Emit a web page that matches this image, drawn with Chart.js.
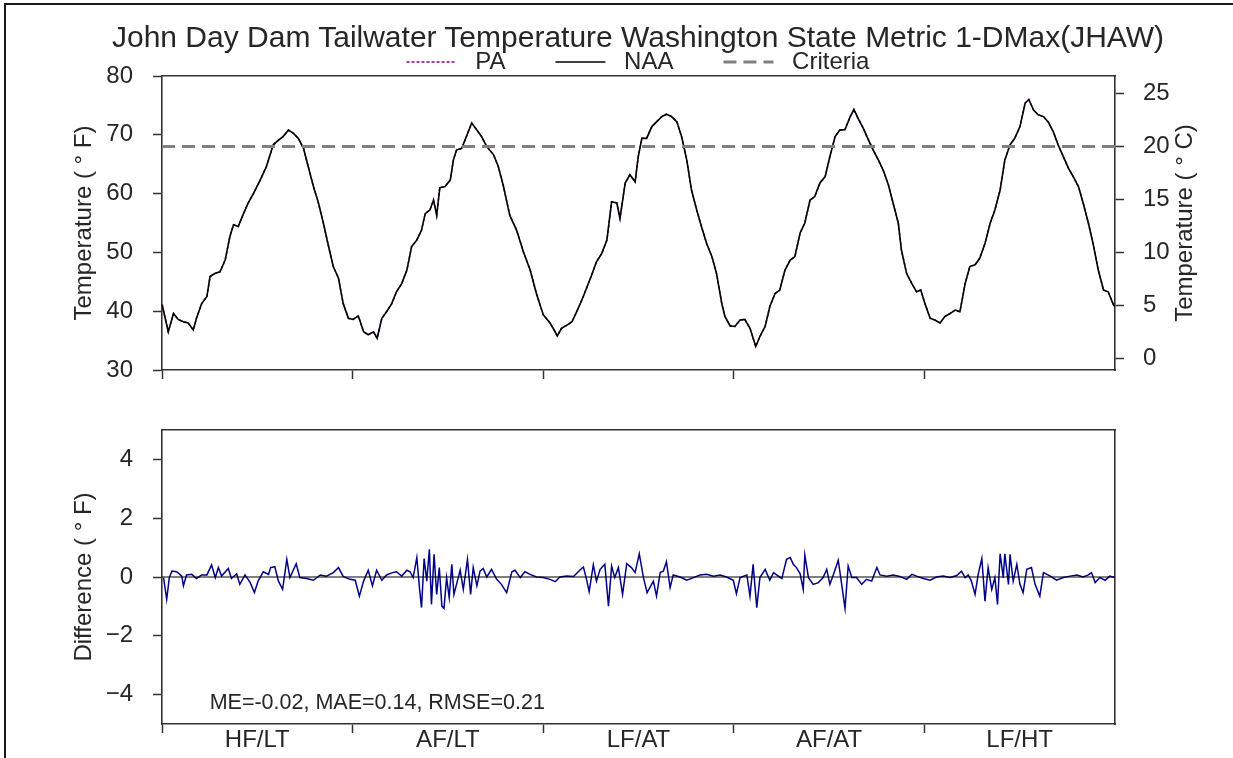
<!DOCTYPE html>
<html>
<head>
<meta charset="utf-8">
<title>John Day Dam Tailwater Temperature</title>
<script src="https://cdn.jsdelivr.net/npm/chart.js@4.4.1/dist/chart.umd.min.js"></script>
<style>
  body { margin: 0; background: #fff; overflow: hidden; font-family: 'Liberation Sans', Arial, sans-serif; }
  #frame { position: absolute; left: 4px; top: 3px; width: 1240px; height: 770px; border-top: 2px solid #1a1a1a; border-left: 2px solid #1a1a1a; }
  #title { position: absolute; left: 43px; width: 1190px; top: 19px; line-height: 36px; font-size: 30px; color: #262626; text-align: center; white-space: nowrap; }
  canvas { position: absolute; left: 0; }
</style>
</head>
<body>
<div id="frame"></div>
<canvas id="tempChart" width="1233" height="400" style="top:0"></canvas>
<canvas id="diffChart" width="1233" height="358" style="top:400px"></canvas>
<div id="title">John Day Dam Tailwater Temperature Washington State Metric 1-DMax(JHAW)</div>
<script>
// Scenario blocks along the x axis (one year each)
const periodLabels = ['HF/LT', 'AF/LT', 'LF/AT', 'AF/AT', 'LF/HT'];
const periodStartDays = [0, 365, 730, 1095, 1460];
const periodLength = 365;

const fahrenheitTicks = [30, 40, 50, 60, 70, 80];
const celsiusTicks = [0, 5, 10, 15, 20, 25];
const diffTicks = [-4, -2, 0, 2, 4];
const tempMinF = 30;
const tempMaxF = 80;
const criteriaF = 68;

// Daily max tailwater temperature, NAA (deg F)
const tempDays = [0, 1, 12, 22, 31, 41, 50, 60, 66, 76, 86,
  92, 101, 111, 121, 130, 137, 146, 156, 165, 175,
  188, 200, 213, 223, 232, 242, 251, 261, 271, 280,
  290, 299, 309, 319, 328, 338, 347, 357, 366, 376,
  386, 395, 405, 412, 421, 430, 440, 449, 459, 469,
  478, 488, 497, 504, 513, 520, 526, 532, 542, 552,
  558, 564, 574, 583, 593, 603, 612, 622, 635, 644,
  654, 666, 679, 692, 705, 717, 730, 743, 749, 757,
  765, 775, 785, 794, 804, 813, 823, 832, 842, 852,
  861, 871, 877, 887, 896, 906,
  912, 919, 928, 938, 947, 957, 966, 976, 986, 995,
  1005, 1014, 1024, 1033, 1043, 1053, 1062, 1072, 1078, 1088,
  1097, 1107, 1116, 1126, 1137, 1145, 1155, 1164, 1174, 1183,
  1193, 1203, 1212, 1222, 1231, 1241, 1250, 1260, 1270, 1279,
  1289, 1298, 1308, 1318, 1325, 1333, 1343, 1353, 1362, 1372,
  1381, 1391, 1400, 1410, 1416, 1426, 1436, 1445, 1453, 1461,
  1471, 1480, 1490, 1499, 1509, 1519, 1528, 1538, 1547, 1557,
  1566, 1576, 1586, 1595, 1605, 1614, 1624, 1633, 1643, 1653,
  1660, 1669, 1678, 1688, 1697, 1707, 1716, 1726, 1736, 1745,
  1755, 1764, 1774, 1783, 1793, 1803, 1812, 1822, 1825];
const naaTempF = [41.1, 40.8, 36.5, 39.6, 38.6, 38.2, 38.0, 36.8, 38.8, 41.3, 42.5,
  45.9, 46.4, 46.7, 48.7, 52.7, 54.7, 54.4, 56.6, 58.4, 60.0,
  62.3, 64.6, 68.3, 69.1, 69.7, 70.8, 70.3, 69.4, 67.7, 64.6,
  61.2, 58.6, 55.0, 51.0, 47.6, 45.6, 41.3, 38.8, 38.6, 39.2,
  36.5, 36.0, 36.5, 35.4, 38.8, 39.9, 41.3, 43.3, 44.7, 47.0,
  51.0, 52.1, 53.8, 56.6, 57.2, 58.9, 56.3, 61.0, 61.2, 62.3,
  65.7, 67.4, 67.7, 69.7, 72.0, 70.8, 69.7, 68.0, 66.6, 64.6,
  61.2, 56.3, 53.8, 50.1, 47.0, 43.0, 39.4, 38.0, 37.1, 35.8,
  37.1, 37.6, 38.2, 39.9, 41.9, 43.9, 46.2, 48.4, 49.8, 52.1,
  58.6, 58.4, 55.8, 61.8, 63.2, 62.0,
  66.3, 69.4, 69.4, 71.4, 72.2, 73.1, 73.5, 73.1, 72.2, 69.7,
  65.7, 60.6, 57.2, 54.4, 51.5, 49.3, 46.4, 41.3, 39.1, 37.5,
  37.4, 38.5, 38.6, 37.1, 34.0, 35.7, 37.4, 40.8, 43.0, 43.6,
  47.0, 48.7, 49.3, 53.3, 55.0, 58.9, 59.5, 61.8, 62.9, 66.3,
  69.7, 70.8, 70.9, 73.1, 74.3, 72.8, 71.1, 69.1, 67.4, 65.7,
  64.0, 61.5, 58.4, 55.0, 50.4, 46.4, 44.7, 43.3, 43.6, 41.3,
  38.8, 38.5, 38.0, 39.1, 39.6, 40.2, 39.9, 44.7, 47.6, 47.9,
  49.0, 51.5, 55.0, 57.2, 60.6, 65.7, 68.3, 69.4, 71.4, 75.4,
  76.0, 74.2, 73.4, 73.1, 72.2, 70.5, 68.3, 66.3, 64.3, 62.9,
  61.2, 58.4, 55.0, 51.5, 47.0, 43.6, 43.3, 41.1, 40.8];
// PA sits on top of NAA at this scale (differences shown below)
const paTempF = naaTempF;

// PA - NAA difference (deg F)
const diffDays = [3, 9, 14, 19, 28, 38, 41, 47, 57, 66, 76, 86, 95, 102, 108, 114, 127, 133, 143, 149,
  159, 169, 177, 184, 194, 204, 208, 216, 223, 231, 239, 245, 257, 264, 277, 290, 303, 315, 328, 338,
  347, 360, 370, 378, 386, 395, 403, 411, 421, 430, 440, 449, 459, 469, 475, 481, 488, 493, 497, 502,
  507, 512, 516, 521, 526, 531, 536, 540, 545, 550, 555, 559, 564, 571, 577, 585, 591, 596, 603, 609,
  615, 622, 631, 641, 650, 660, 670, 676, 686, 695, 705, 717, 730, 743, 753, 762, 775, 788, 800, 807,
  813, 818, 826, 832, 839, 848, 855, 861, 867, 874, 882, 890, 899, 906, 914, 922, 929,
  941, 947, 954, 960, 966, 973, 979, 992, 1005, 1018, 1030, 1043, 1056, 1069, 1081, 1094, 1100, 1107, 1120, 1126,
  1132, 1139, 1145, 1155, 1164, 1171, 1177, 1187, 1196, 1203, 1209, 1215, 1222, 1228, 1231, 1238, 1247, 1257, 1266, 1273,
  1279, 1286, 1295, 1302, 1308, 1314, 1321, 1330, 1340, 1349, 1359, 1369, 1375, 1388, 1400, 1413, 1426, 1436, 1445, 1458,
  1471, 1483, 1496, 1509, 1522, 1531, 1538, 1544, 1550, 1557, 1563, 1570, 1576, 1582, 1589, 1595, 1600, 1605, 1611, 1614,
  1621, 1624, 1630, 1637, 1643, 1649, 1656, 1665, 1672, 1681, 1688, 1701, 1713, 1726, 1739, 1752, 1764, 1774, 1780, 1787,
  1796, 1806, 1815, 1825];
const diffF = [-0.02, -0.76, -0.02, 0.20, 0.18, 0.03, -0.30, 0.07, 0.09, -0.05, 0.07, 0.07, 0.41, -0.02, 0.32, 0.03, 0.29, -0.05, 0.11, -0.25,
  0.07, -0.19, -0.53, -0.14, 0.18, 0.09, 0.32, 0.35, -0.14, -0.42, 0.60, -0.02, 0.45, -0.02, -0.05, -0.11, 0.07, 0.03, 0.15, 0.32,
  0.02, -0.08, -0.11, -0.65, -0.14, 0.23, -0.30, 0.23, -0.11, 0.07, 0.14, 0.18, 0.03, 0.23, 0.18, -0.02, 0.66, -0.36, -1.04, 0.63,
  -0.14, 0.94, -0.93, 0.77, -0.59, 0.32, -0.99, -1.07, -0.02, -0.70, 0.43, -0.59, -0.25, 0.23, -0.42, 0.60, -0.59, 0.32, -0.30, 0.20,
  0.29, 0.00, 0.26, -0.08, -0.25, -0.53, 0.18, 0.23, -0.02, 0.18, 0.09, 0.00, -0.02, -0.08, -0.16, 0.00, 0.03, 0.02, 0.23, 0.34,
  -0.08, -0.50, 0.41, -0.14, 0.26, 0.43, -0.99, 0.37, -0.02, 0.32, -0.59, 0.45, 0.32, 0.15, 0.79, -0.02, -0.53,
  -0.14, -0.65, 0.15, 0.20, 0.52, -0.36, 0.07, 0.00, -0.11, -0.02, 0.07, 0.09, 0.03, 0.07, 0.00, -0.11, -0.57, -0.02, 0.07, -0.65,
  0.43, -1.04, -0.02, 0.26, -0.11, 0.15, 0.07, -0.05, 0.60, 0.66, 0.43, 0.32, 0.11, -0.42, 0.75, -0.02, -0.25, -0.19, -0.02, 0.26,
  -0.25, 0.09, 0.57, -0.30, -1.07, 0.37, -0.02, -0.02, -0.25, -0.08, -0.14, 0.32, 0.07, 0.03, 0.07, 0.02, -0.08, 0.09, 0.03, -0.05,
  -0.11, 0.00, 0.03, -0.02, 0.05, 0.20, -0.02, 0.07, -0.14, -0.59, 0.09, 0.63, -0.82, 0.32, -0.42, -0.02, -0.93, 0.79, -0.02, 0.79,
  -0.25, 0.77, -0.14, 0.43, -0.25, -0.53, 0.26, 0.32, -0.25, -0.65, 0.15, 0.03, -0.11, -0.02, 0.03, 0.07, 0.00, 0.07, 0.15, -0.19,
  -0.02, -0.11, 0.03, -0.02];

const statsText = 'ME=-0.02, MAE=0.14, RMSE=0.21';

// Styling
const fontFamily = "'Liberation Sans', Arial, sans-serif";
const textColor = '#262626';
const spineColor = '#333333';
const totalDays = periodStartDays.length * periodLength;

function points(xs, ys) {
    return xs.map((x, i) => ({ x: x, y: ys[i] }));
}

// ticks at block edges (marks only) and block centres (labels only)
function periodTicks(scale) {
    const ticks = [];
    periodStartDays.forEach((start, i) => {
        ticks.push({ value: start, edge: true, name: '' });
        ticks.push({ value: start + periodLength / 2, edge: false, name: periodLabels[i] });
    });
    scale.ticks = ticks;
}

// fixed box sizes so both panels line up with the reference
function fixWidth(w) {
    return s => { s.width = w; s.paddingTop = 0; s.paddingBottom = 0; };
}
function fixHeight(h) {
    return s => { s.height = h; s.paddingLeft = 0; s.paddingRight = 0; };
}

function bottomAxis(showLabels, height) {
    return {
        type: 'linear',
        position: 'bottom',
        min: 0,
        max: totalDays,
        afterBuildTicks: periodTicks,
        afterFit: fixHeight(height),
        border: { display: true, color: spineColor, width: 1.6 },
        grid: {
            display: true,
            drawOnChartArea: false,
            drawTicks: true,
            tickLength: 9,
            tickWidth: 1.5,
            tickColor: c => (c.tick && c.tick.edge) ? spineColor : 'rgba(0,0,0,0)'
        },
        ticks: {
            display: showLabels,
            autoSkip: false,
            maxRotation: 0,
            minRotation: 0,
            padding: -7,
            color: textColor,
            font: { family: fontFamily, size: 24 },
            callback: (v, i, ticks) => ticks[i].name
        }
    };
}

function topAxis(height) {
    return {
        type: 'linear',
        position: 'top',
        min: 0,
        max: totalDays,
        afterFit: fixHeight(height),
        border: { display: true, color: spineColor, width: 1.6 },
        grid: { display: false },
        ticks: { display: false }
    };
}

function tickGrid() {
    return { display: true, drawOnChartArea: false, drawTicks: true, tickLength: 9, tickWidth: 1.5, tickColor: spineColor };
}

function fixedTicks(values) {
    return s => { s.ticks = values.map(v => ({ value: v })); };
}

const minusLabel = v => (v < 0 ? '\u2212' + Math.abs(v) : String(v));

const rightAxisTitle = {
    id: 'rightAxisTitle',
    afterDraw(chart) {
        const area = chart.chartArea;
        const ctx = chart.ctx;
        ctx.save();
        ctx.translate(area.right + 70, (area.top + area.bottom) / 2);
        ctx.rotate(-Math.PI / 2);
        ctx.font = '24px ' + fontFamily;
        ctx.fillStyle = textColor;
        ctx.textAlign = 'center';
        ctx.textBaseline = 'middle';
        ctx.fillText('Temperature ( \u00B0 C)', 0, 0);
        ctx.restore();
    }
};

const statsLabel = {
    id: 'statsLabel',
    afterDatasetsDraw(chart) {
        const a = chart.chartArea;
        const ctx = chart.ctx;
        ctx.save();
        ctx.font = '21.5px ' + fontFamily;
        ctx.fillStyle = textColor;
        ctx.textAlign = 'left';
        ctx.textBaseline = 'alphabetic';
        ctx.fillText(statsText, a.left + 0.05 * (a.right - a.left), a.bottom - 0.05 * (a.bottom - a.top));
        ctx.restore();
    }
};

// Temperature panel
new Chart(document.getElementById('tempChart'), {
    type: 'line',
    data: {
        datasets: [
            {
                label: 'PA',
                data: points(tempDays, paTempF),
                borderColor: '#800080',
                borderWidth: 1.5,
                borderDash: [3, 2],
                pointRadius: 0,
                order: 2
            },
            {
                label: 'NAA',
                data: points(tempDays, naaTempF),
                borderColor: '#000000',
                borderWidth: 1.6,
                pointRadius: 0,
                order: 1
            },
            {
                label: 'Criteria',
                data: points([0, totalDays], [criteriaF, criteriaF]),
                borderColor: '#808080',
                borderWidth: 3,
                borderDash: [13, 7],
                pointRadius: 0,
                order: 0
            }
        ]
    },
    options: {
        responsive: false,
        animation: false,
        events: [],
        layout: { padding: { left: 43, right: 0, top: 0, bottom: 0 } },
        scales: {
            x: bottomAxis(false, 30),
            xTop: topAxis(0),
            y: {
                type: 'linear',
                position: 'left',
                min: tempMinF,
                max: tempMaxF,
                afterBuildTicks: fixedTicks(fahrenheitTicks),
                afterFit: fixWidth(119),
                border: { display: true, color: spineColor, width: 1.6 },
                grid: tickGrid(),
                ticks: { padding: 20, color: textColor, font: { family: fontFamily, size: 24 } },
                title: {
                    display: true,
                    text: 'Temperature ( \u00B0 F)',
                    color: textColor,
                    font: { family: fontFamily, size: 24 },
                    padding: { top: 27, bottom: 0 }
                }
            },
            y1: {
                type: 'linear',
                position: 'right',
                min: (tempMinF - 32) * 5 / 9,
                max: (tempMaxF - 32) * 5 / 9,
                afterBuildTicks: fixedTicks(celsiusTicks),
                afterFit: fixWidth(118),
                border: { display: true, color: spineColor, width: 1.6 },
                grid: tickGrid(),
                ticks: { padding: 19, color: textColor, font: { family: fontFamily, size: 24 } }
            }
        },
        plugins: {
            tooltip: { enabled: false },
            legend: {
                position: 'top',
                maxHeight: 76,
                labels: {
                    usePointStyle: true,
                    pointStyleWidth: 50,
                    padding: 50,
                    color: textColor,
                    font: { family: fontFamily, size: 24 },
                    generateLabels: chart => chart.data.datasets.map((ds, i) => ({
                        text: ' ' + ds.label,
                        datasetIndex: i,
                        hidden: false,
                        pointStyle: 'line',
                        strokeStyle: ds.borderColor,
                        fillStyle: 'rgba(0,0,0,0)',
                        lineWidth: ds.borderWidth,
                        lineDash: ds.borderDash || [],
                        fontColor: textColor
                    }))
                }
            }
        }
    },
    plugins: [rightAxisTitle]
});

// Difference panel
new Chart(document.getElementById('diffChart'), {
    type: 'line',
    data: {
        datasets: [
            {
                label: 'Zero',
                data: points([0, totalDays], [0, 0]),
                borderColor: '#000000',
                borderWidth: 1,
                pointRadius: 0,
                order: 0
            },
            {
                label: 'PA - NAA',
                data: points(diffDays, diffF),
                borderColor: '#00008B',
                borderWidth: 1.5,
                pointRadius: 0,
                order: 1
            }
        ]
    },
    options: {
        responsive: false,
        animation: false,
        events: [],
        layout: { padding: { left: 43, right: 0, top: 0, bottom: 0 } },
        scales: {
            x: bottomAxis(true, 34),
            xTop: topAxis(30),
            y: {
                type: 'linear',
                position: 'left',
                min: -5,
                max: 5,
                afterBuildTicks: fixedTicks(diffTicks),
                afterFit: fixWidth(119),
                border: { display: true, color: spineColor, width: 1.6 },
                grid: tickGrid(),
                ticks: { padding: 20, color: textColor, font: { family: fontFamily, size: 24 }, callback: minusLabel },
                title: {
                    display: true,
                    text: 'Difference ( \u00B0 F)',
                    color: textColor,
                    font: { family: fontFamily, size: 24 },
                    padding: { top: 27, bottom: 0 }
                }
            },
            yRight: {
                type: 'linear',
                position: 'right',
                min: -5,
                max: 5,
                afterFit: fixWidth(118),
                border: { display: true, color: spineColor, width: 1.6 },
                grid: { display: false },
                ticks: { display: false }
            }
        },
        plugins: {
            tooltip: { enabled: false },
            legend: { display: false }
        }
    },
    plugins: [statsLabel]
});
</script>
</body>
</html>
